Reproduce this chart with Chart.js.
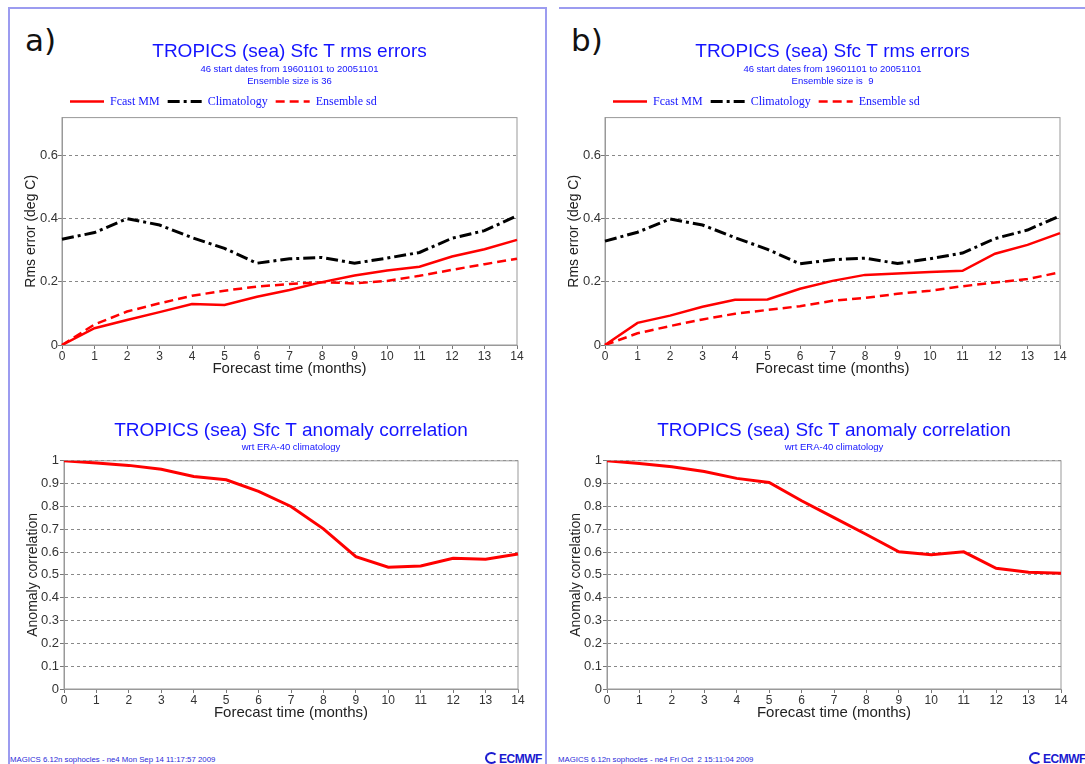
<!DOCTYPE html>
<html>
<head>
<meta charset="utf-8">
<script src="https://cdn.jsdelivr.net/npm/chart.js@4/dist/chart.umd.min.js"></script>
<style>
  html, body { margin: 0; padding: 0; background: #fff; }
  body { width: 1085px; height: 764px; position: relative; overflow: hidden; font-family: "Liberation Sans", Arial, sans-serif; }
  .panel { position: absolute; border: 2px solid #9c9cf0; box-sizing: border-box; }
  #panelA { left: 8px; top: 7px; width: 539px; height: 800px; }
  #panelB { left: 559px; top: 7px; width: 600px; height: 800px; border-left: none; }
  .tag { position: absolute; font-family: "DejaVu Sans", Verdana, sans-serif; font-size: 31px; line-height: 1; color: #111; }
  .foot { position: absolute; top: 755px; font-size: 7.8px; color: #2a2ad8; white-space: pre; }
  .logo { position: absolute; top: 752px; font-size: 12px; font-weight: bold; color: #1a1ad0; letter-spacing: -0.5px; white-space: nowrap; }
  .logo .cc { display: inline-block; width: 9px; height: 8px; border: 2px solid #1a1ad0; border-right-color: transparent; border-radius: 50%; margin-right: 1px; vertical-align: -1px; }
  canvas { position: absolute; }
</style>
</head>
<body>
<div class="panel" id="panelA"></div>
<div class="panel" id="panelB"></div>
<div class="tag" style="left:25px; top:25px;">a)</div>
<div class="tag" style="left:571px; top:25px;">b)</div>

<canvas id="rmsA" width="540" height="349" style="left:20px; top:30px;"></canvas>
<canvas id="rmsB" width="522" height="349" style="left:563px; top:30px;"></canvas>
<canvas id="corrA" width="538" height="313" style="left:22px; top:410px;"></canvas>
<canvas id="corrB" width="520" height="313" style="left:565px; top:410px;"></canvas>

<div class="foot" style="left:10px;">MAGICS 6.12n sophocles - ne4 Mon Sep 14 11:17:57 2009</div>
<div class="foot" style="left:558px;">MAGICS 6.12n sophocles - ne4 Fri Oct  2 15:11:04 2009</div>
<div class="logo" style="left:485px;"><span class="cc"></span>ECMWF</div>
<div class="logo" style="left:1029px;"><span class="cc"></span>ECMWF</div>

<script>
const months = [0, 1, 2, 3, 4, 5, 6, 7, 8, 9, 10, 11, 12, 13, 14];
const rmsTicks = [0, 0.2, 0.4, 0.6];

// a) ensemble size 36
const fcastRmsA = [0, 0.053, 0.079, 0.104, 0.130, 0.127, 0.153, 0.174, 0.199, 0.220, 0.236, 0.248, 0.280, 0.303, 0.333];
const climRmsA  = [0.335, 0.356, 0.400, 0.380, 0.340, 0.306, 0.259, 0.273, 0.277, 0.259, 0.275, 0.293, 0.338, 0.362, 0.409];
const sdRmsA    = [0, 0.065, 0.106, 0.132, 0.156, 0.172, 0.185, 0.193, 0.199, 0.195, 0.203, 0.219, 0.238, 0.256, 0.273];
const corrA     = [1.0, 0.990, 0.980, 0.963, 0.931, 0.917, 0.866, 0.800, 0.702, 0.580, 0.534, 0.539, 0.573, 0.569, 0.592];

// b) ensemble size 9
const fcastRmsB = [0, 0.070, 0.093, 0.121, 0.143, 0.144, 0.178, 0.203, 0.222, 0.226, 0.231, 0.235, 0.289, 0.317, 0.354];
const climRmsB  = [0.329, 0.357, 0.399, 0.380, 0.340, 0.303, 0.257, 0.270, 0.275, 0.258, 0.273, 0.291, 0.337, 0.364, 0.409];
const sdRmsB    = [0, 0.037, 0.060, 0.081, 0.099, 0.111, 0.123, 0.140, 0.149, 0.162, 0.172, 0.186, 0.198, 0.209, 0.230];
const corrB     = [1.0, 0.988, 0.974, 0.953, 0.923, 0.905, 0.825, 0.751, 0.677, 0.601, 0.588, 0.601, 0.529, 0.512, 0.507];

const BLUE = "#1414ff";
Chart.defaults.font.family = "'Liberation Sans', Arial, sans-serif";
Chart.defaults.animation = false;

// plot frame around the chart area
const frame = {
  id: "frame",
  beforeDatasetsDraw(chart) {
    const { ctx, chartArea: a } = chart;
    ctx.save();
    ctx.strokeStyle = "#999";
    ctx.lineWidth = 1;
    ctx.strokeRect(a.left, a.top, a.right - a.left, a.bottom - a.top);
    ctx.restore();
  }
};

function xScale() {
  return {
    type: "category",
    offset: false,
    afterFit: s => { s.height = 34; },
    grid: { drawOnChartArea: false, drawTicks: true, tickLength: 4, tickColor: "#777" },
    border: { color: "#999" },
    ticks: { color: "#333", font: { size: 12 }, padding: 0, maxRotation: 0, autoSkip: false },
    title: { display: true, text: "Forecast time (months)", color: "#222", font: { size: 15, lineHeight: 1.15 }, padding: { top: 0, bottom: 2 } }
  };
}

function yScale(title, extra) {
  return Object.assign({
    min: 0,
    afterFit: s => { s.width = 42; },
    grid: { color: "#888", lineWidth: 1, tickLength: 4, tickColor: "#777" },
    border: { color: "#999", dash: [3, 3] },
    ticks: { color: "#333", font: { size: 13 }, padding: 0, callback: v => String(+(+v).toFixed(2)) },
    title: { display: true, text: title, color: "#222", font: { size: 14, lineHeight: 1.15 }, padding: { top: 3, bottom: 0 } }
  }, extra);
}

// legend entries keep each dataset's dash pattern
const dashedLabels = chart =>
  Chart.defaults.plugins.legend.labels.generateLabels(chart).map((item, i) => {
    const ds = chart.data.datasets[i];
    return Object.assign(item, { lineDash: ds.borderDash || [], lineWidth: ds.borderWidth, strokeStyle: ds.borderColor });
  });

function rmsChart(id, fcast, clim, sd, sub, padRight) {
  new Chart(document.getElementById(id), {
    type: "line",
    data: {
      labels: months,
      datasets: [
        { label: "Fcast MM", data: fcast, borderColor: "#ff0000", borderWidth: 2.5 },
        { label: "Climatology", data: clim, borderColor: "#000", borderWidth: 3, borderDash: [12, 4, 3, 4] },
        { label: "Ensemble sd", data: sd, borderColor: "#ff0000", borderWidth: 2.5, borderDash: [9, 5] }
      ]
    },
    options: {
      responsive: false,
      tension: 0,
      pointRadius: 0,
      layout: { padding: { left: 0, right: padRight, top: 0, bottom: 0 } },
      plugins: {
        title: { display: true, fullSize: false, text: "TROPICS (sea) Sfc T rms errors", color: BLUE, font: { size: 19, weight: "normal", lineHeight: 1.2 }, padding: { top: 10, bottom: 1 } },
        subtitle: { display: true, fullSize: false, text: sub, color: BLUE, font: { size: 9.5, lineHeight: 1.2 }, padding: { top: 0, bottom: 1 } },
        legend: {
          display: true, fullSize: false, position: "top", align: "start",
          labels: {
            usePointStyle: true, pointStyle: "line", pointStyleWidth: 34, padding: 8, color: BLUE,
            font: { family: "'Liberation Serif', 'Times New Roman', serif", size: 12 },
            generateLabels: dashedLabels
          }
        },
        tooltip: { enabled: false }
      },
      scales: {
        x: xScale(),
        y: yScale("Rms error (deg C)", { max: 0.72, afterBuildTicks: s => { s.ticks = rmsTicks.map(v => ({ value: v })); } })
      }
    },
    plugins: [frame]
  });
}

function corrChart(id, corr, padRight) {
  new Chart(document.getElementById(id), {
    type: "line",
    data: {
      labels: months,
      datasets: [{ label: "Fcast MM", data: corr, borderColor: "#ff0000", borderWidth: 3 }]
    },
    options: {
      responsive: false,
      tension: 0,
      pointRadius: 0,
      layout: { padding: { left: 0, right: padRight, top: 0, bottom: 0 } },
      plugins: {
        title: { display: true, fullSize: false, text: "TROPICS (sea) Sfc T anomaly correlation", color: BLUE, font: { size: 19, weight: "normal", lineHeight: 1.2 }, padding: { top: 9, bottom: 0 } },
        subtitle: { display: true, fullSize: false, text: "wrt ERA-40 climatology", color: BLUE, font: { size: 9.5, lineHeight: 1.16 }, padding: { top: 0, bottom: 8 } },
        legend: { display: false },
        tooltip: { enabled: false }
      },
      scales: {
        x: xScale(),
        y: yScale("Anomaly correlation", { max: 1, ticks: { color: "#333", font: { size: 13 }, padding: 1, stepSize: 0.1, callback: v => String(+(+v).toFixed(2)) } })
      }
    },
    plugins: [frame]
  });
}

rmsChart("rmsA", fcastRmsA, climRmsA, sdRmsA, ["46 start dates from 19601101 to 20051101", "Ensemble size is 36"], 43);
rmsChart("rmsB", fcastRmsB, climRmsB, sdRmsB, ["46 start dates from 19601101 to 20051101", "Ensemble size is  9"], 25);
corrChart("corrA", corrA, 42);
corrChart("corrB", corrB, 24);
</script>
</body>
</html>
